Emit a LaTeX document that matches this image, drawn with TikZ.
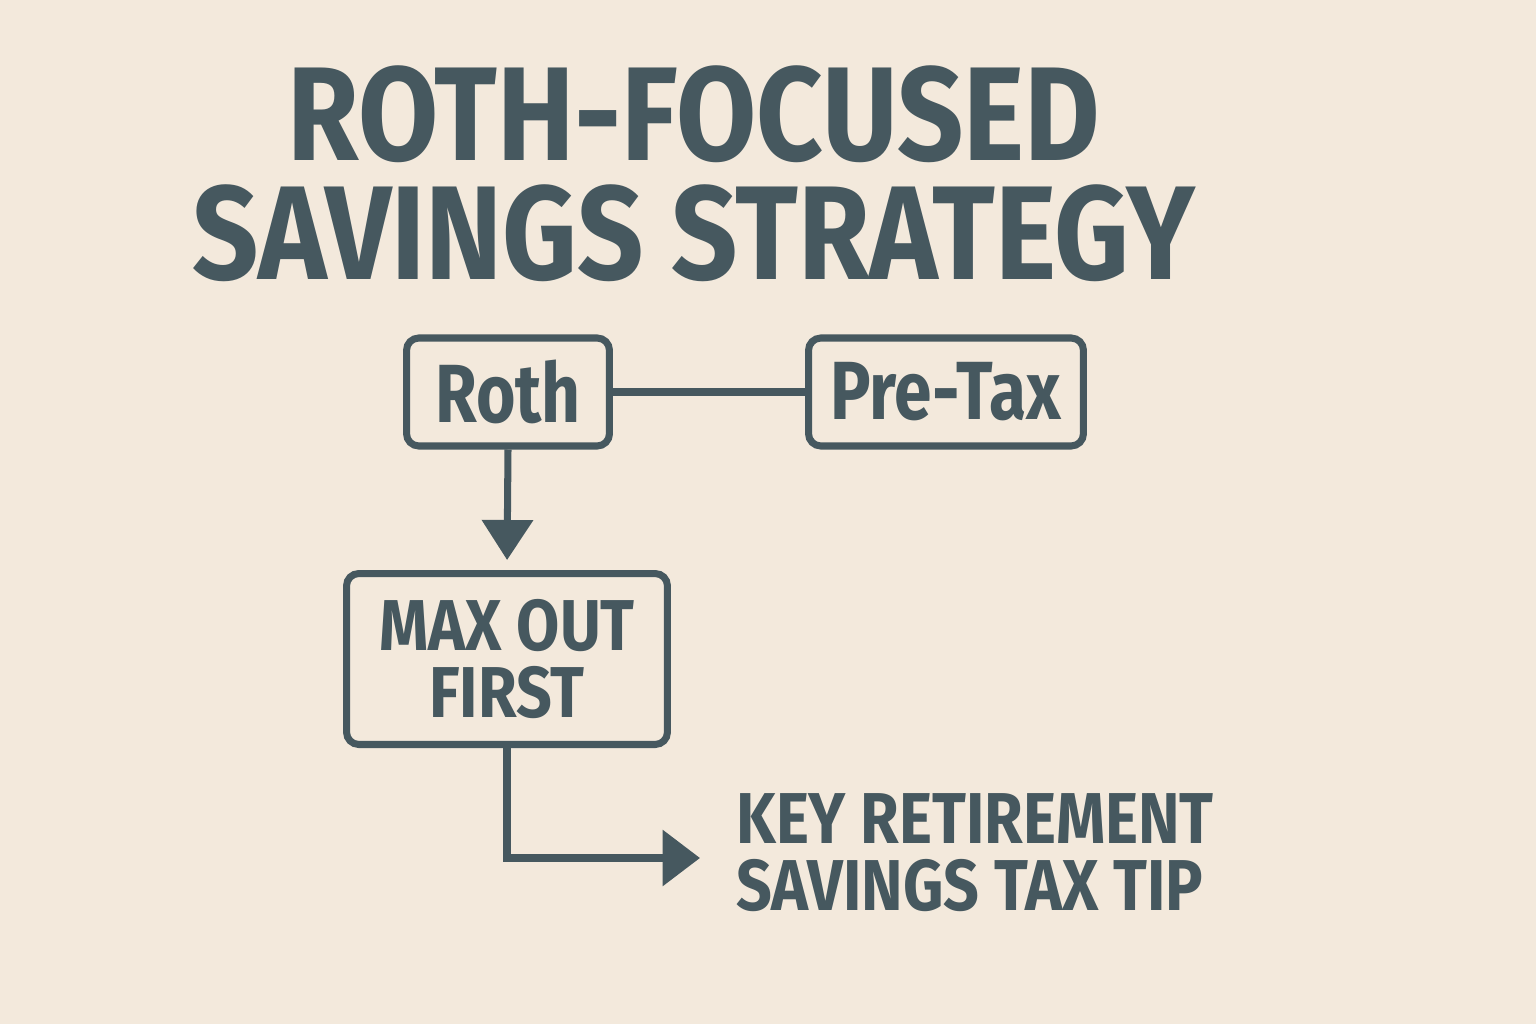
\documentclass[tikz,border=0pt]{standalone}
\usepackage{fontspec}
\setmainfont{Fira Sans}[FakeStretch=0.82]
\newfontfamily\widefont{Fira Sans}[FakeStretch=0.87]
\usetikzlibrary{arrows.meta}
\definecolor{slate}{HTML}{46585F}
\definecolor{cream}{HTML}{F3E9DC}
\begin{document}
\begin{tikzpicture}[x=0.02cm,y=-0.02cm,
  every node/.style={text=slate,font=\bfseries,inner sep=0pt},
  box/.style={draw=slate,line width=4pt,rounded corners=7pt},
  link/.style={draw=slate,line width=4pt}]
\fill[cream] (0,0) rectangle (1536,1024);
\node[anchor=north,align=center,font=\widefont\bfseries\fontsize{76}{68}\selectfont] (title) at (694,65) {ROTH-FOCUSED\\SAVINGS STRATEGY};
\node[box,minimum width=4.06cm,minimum height=2.16cm,font=\bfseries\fontsize{47}{50}\selectfont] (roth) at (508,392) {Roth};
\node[box,minimum width=5.5cm,minimum height=2.16cm,font=\bfseries\fontsize{47}{50}\selectfont] (pretax) at (946,392) {Pre-Tax};
\node[box,minimum width=6.42cm,minimum height=3.42cm,align=center,font=\widefont\bfseries\fontsize{41}{38}\selectfont] (maxout) at (507,659) {MAX OUT\\FIRST};
\node[anchor=north west,align=left,font=\widefont\bfseries\fontsize{41}{38}\selectfont] (keytip) at (736,793) {KEY RETIREMENT\\SAVINGS TAX TIP};
\coordinate (tipend) at (700,858);
\draw[link] (roth) -- (pretax);
\draw[link,-{Triangle[length=0.8cm,width=1cm]},shorten >=0.2cm] (roth.south) -- (maxout.north);
\draw[link,-{Triangle[length=0.75cm,width=1.1cm]}] (maxout.south) |- (tipend);
\end{tikzpicture}
\end{document}
